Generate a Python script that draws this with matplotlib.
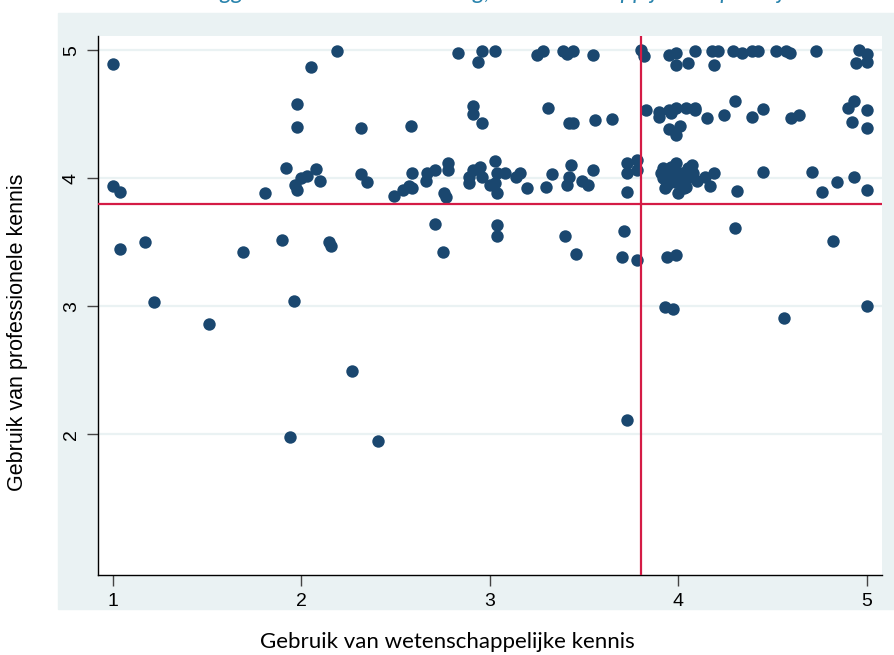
import matplotlib
matplotlib.use('Agg')
import matplotlib.pyplot as plt
import matplotlib.patches as patches

# gemiddelde scores per respondent
x_wet = [
    # bovenste rij (~5)
    2.19, 2.83, 2.96, 2.94, 3.03, 3.25, 3.28, 3.39, 3.41, 3.44, 3.55, 3.80,
    3.82, 3.95, 3.99, 3.99, 4.05, 4.09, 4.18, 4.21, 4.19, 4.29, 4.34, 4.39,
    4.42, 4.52, 4.57, 4.59, 4.73, 4.96, 5.00, 4.94, 5.00, 1.00, 2.05,
    # middenrij (~4.5)
    1.98, 1.98, 2.32, 2.58, 2.91, 2.91, 2.96, 3.31, 3.42, 3.44, 3.56, 3.65,
    3.83, 3.90, 3.90, 3.95, 3.96, 3.99, 4.04, 4.09, 4.09, 4.15, 4.24, 4.30,
    4.39, 4.45, 4.60, 4.64, 4.90, 4.93, 5.00, 4.92, 5.00, 3.95, 4.01, 3.99,
    # rij rond 4
    1.00, 1.04, 1.81, 1.92, 1.97, 1.98, 2.00, 2.03, 2.08, 2.10, 2.32, 2.35,
    2.49, 2.54, 2.57, 2.59, 2.59, 2.66, 2.67, 2.71, 2.78, 2.78, 2.76, 2.77,
    2.89, 2.89, 2.91, 2.95, 2.96, 3.00, 3.03, 3.04, 3.03, 3.04, 3.08, 3.14,
    3.16, 3.20, 3.30, 3.33, 3.43, 3.42, 3.41, 3.49, 3.52, 3.55, 3.73, 3.73,
    3.73, 3.78, 3.78,
    3.92, 3.91, 3.92, 3.93, 3.96, 3.99, 4.00, 4.01, 4.00, 4.05, 4.06, 4.07,
    4.04, 4.08, 4.10, 4.14, 3.95, 4.02, 3.98, 3.94, 4.03, 3.97, 4.03, 4.06,
    3.93, 4.00,
    4.19, 4.17, 4.31, 4.45, 4.71, 4.76, 4.84, 4.93, 5.00,
    # onder
    1.04, 1.17, 1.22, 1.51, 1.69, 1.90, 1.94, 1.96, 2.15, 2.16, 2.27, 2.41,
    2.71, 2.75, 3.04, 3.04, 3.40, 3.46, 3.71, 3.70, 3.78, 3.94, 3.99, 4.30,
    4.82, 3.93, 3.97, 4.56, 5.00, 3.73,
]
y_prof = [
    4.99, 4.98, 4.99, 4.91, 4.99, 4.96, 4.99, 4.99, 4.97, 4.99, 4.96, 5.00,
    4.95, 4.96, 4.98, 4.88, 4.90, 4.99, 4.99, 4.99, 4.88, 4.99, 4.98, 4.99,
    4.99, 4.99, 4.99, 4.98, 4.99, 5.00, 4.97, 4.90, 4.91, 4.89, 4.87,
    4.58, 4.40, 4.39, 4.41, 4.56, 4.50, 4.43, 4.55, 4.43, 4.43, 4.45, 4.46,
    4.53, 4.52, 4.48, 4.53, 4.51, 4.55, 4.55, 4.55, 4.53, 4.47, 4.49, 4.60,
    4.48, 4.54, 4.47, 4.49, 4.55, 4.60, 4.53, 4.44, 4.39, 4.38, 4.41, 4.34,
    3.94, 3.89, 3.88, 4.08, 3.95, 3.91, 4.00, 4.02, 4.07, 3.98, 4.03, 3.97,
    3.86, 3.91, 3.94, 4.04, 3.92, 3.98, 4.04, 4.06, 4.12, 4.06, 3.88, 3.85,
    4.01, 3.96, 4.06, 4.09, 4.01, 3.95, 4.13, 4.04, 3.96, 3.88, 4.04, 4.01,
    4.04, 3.92, 3.93, 4.03, 4.10, 4.01, 3.95, 3.98, 3.95, 4.06, 4.12, 4.04,
    3.89, 4.14, 4.06,
    4.08, 4.04, 4.00, 3.92, 4.09, 4.12, 4.04, 3.96, 3.88, 4.08, 4.01, 4.10,
    3.93, 4.04, 3.98, 4.01, 4.00, 4.04, 3.97, 3.95, 4.00, 4.06, 3.92, 4.05,
    4.05, 3.99,
    4.04, 3.94, 3.90, 4.05, 4.05, 3.89, 3.97, 4.01, 3.91,
    3.45, 3.50, 3.03, 2.86, 3.42, 3.52, 1.98, 3.04, 3.50, 3.47, 2.49, 1.95,
    3.64, 3.42, 3.63, 3.55, 3.55, 3.41, 3.59, 3.38, 3.36, 3.38, 3.40, 3.61,
    3.51, 2.99, 2.98, 2.91, 3.00, 2.11,
]
gemiddelde_x = 3.8
gemiddelde_y = 3.8

fig = plt.figure(figsize=(8.94, 6.55), dpi=100)
fig.patch.set_facecolor('white')

# lichtblauwe achtergrond van het grafiekgebied
achtergrond = patches.Rectangle((58 / 894, 1 - 609 / 655), 1 - 58 / 894, 596 / 655,
                                transform=fig.transFigure, color='#eaf2f3', zorder=-10)
fig.patches.append(achtergrond)

ax = fig.add_axes([98 / 894, 1 - 575 / 655, 784 / 894, 539 / 655])
ax.set_zorder(1)
ax.set_facecolor('white')

ax.scatter(x_wet, y_prof, s=80, color='#1a476f', linewidths=0, zorder=3)
ax.axhline(gemiddelde_y, color='#d41b45', lw=1.6, zorder=4)
ax.axvline(gemiddelde_x, color='#d41b45', lw=1.6, zorder=4)

ax.set_xlim(0.923, 5.08)
ax.set_ylim(0.9, 5.11)
ax.set_xticks([1, 2, 3, 4, 5])
ax.set_yticks([2, 3, 4, 5])
ax.yaxis.grid(True, color='#eaf2f3', lw=1.6)
ax.set_axisbelow(True)

for side in ['top', 'right']:
    ax.spines[side].set_visible(False)
for side in ['left', 'bottom']:
    ax.spines[side].set_color('black')
    ax.spines[side].set_linewidth(1.0)

ax.tick_params(axis='both', length=8, width=1, color='#444444', direction='out',
               labelsize=14, pad=5)
for lbl in ax.get_xticklabels() + ax.get_yticklabels():
    lbl.set_family('Liberation Sans')
plt.setp(ax.get_yticklabels(), rotation=90, va='center')

fig.text(18 / 894, 1 - 332 / 655, 'Gebruik van professionele kennis', rotation=90,
         ha='center', va='center', fontsize=15.5, family='Liberation Sans')
fig.text(0.5, 1 - 642 / 655, 'Gebruik van wetenschappelijke kennis',
         ha='center', va='center', fontsize=16, family='Lato')

# titel valt grotendeels buiten beeld
fig.text(490 / 894, 1.002, 'Inleggen van kennis uit de zorg, de maatschappij en de praktijk',
         ha='center', va='baseline', fontsize=17, style='italic', color='#2a84ad',
         family='Lato')

fig.savefig('out.png', dpi=100)
